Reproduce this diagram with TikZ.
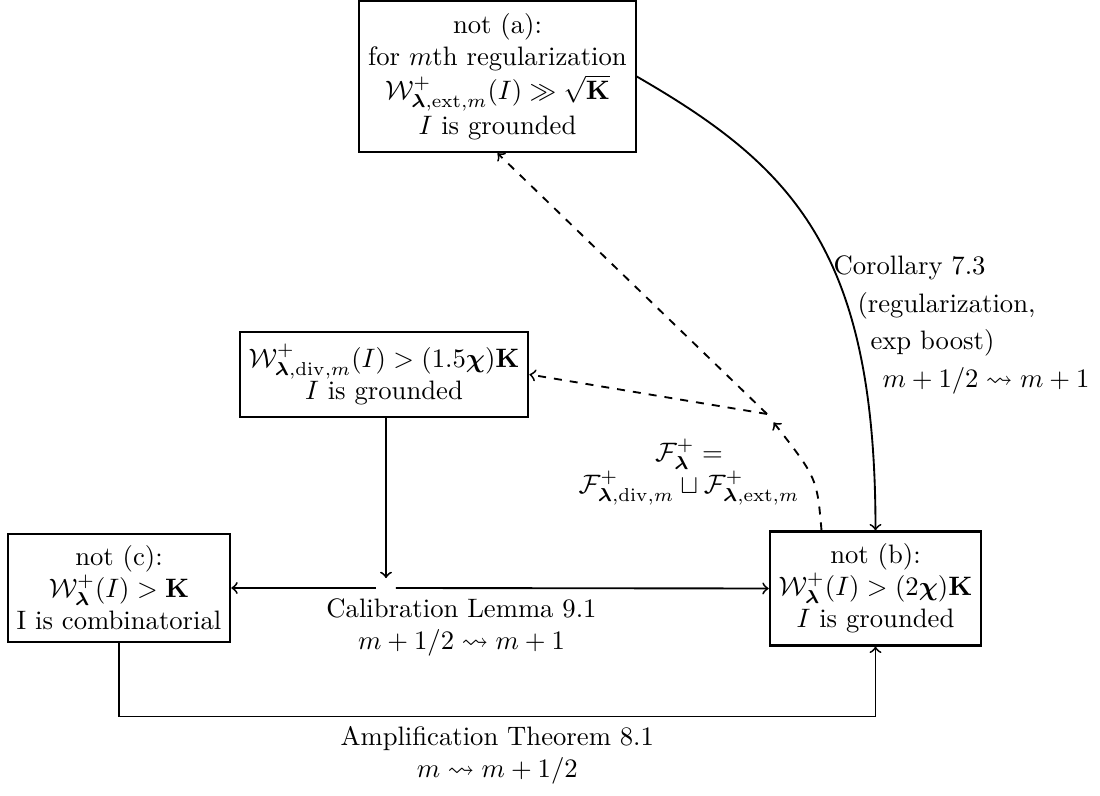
\documentclass[tikz,border=0pt]{standalone}
\usepackage{amsmath,amssymb,bm}
\usetikzlibrary{calc}
\begin{document}
\begin{tikzpicture}[x=0.375pt,y=-0.375pt,
  box/.style={draw,line width=0.8pt,align=center,inner xsep=3.33pt,inner ysep=4.6pt},
  conn/.style={line width=0.7pt,->},
  dconn/.style={line width=0.7pt,->,dashed},
  lbl/.style={align=center},
  side/.style={anchor=base west,inner sep=0pt}]
\useasboundingbox (0,0) rectangle (1100,796);
% boxes
\node[box] (a) at (497.5,76.5) {not (a):\\ for $m$th regularization\\[1pt] $\mathcal{W}^+_{\boldsymbol{\lambda},\mathrm{ext},m}(I) \gg \sqrt{\mathbf{K}}$\\[1pt] $I$ is grounded};
\node[box] (mid) at (384,374.5) {$\mathcal{W}^+_{\boldsymbol{\lambda},\mathrm{div},m}(I) > (1.5\boldsymbol{\chi})\mathbf{K}$\\ $I$ is grounded};
\node[box] (c) at (119,588) {not (c):\\ $\mathcal{W}^+_{\boldsymbol{\lambda}}(I) > \mathbf{K}$\\ I is combinatorial};
\node[box] (b) at (875.5,588.5) {not (b):\\ $\mathcal{W}^+_{\boldsymbol{\lambda}}(I) > (2\boldsymbol{\chi})\mathbf{K}$\\ $I$ is grounded};
% calibration junction
\node[inner sep=3.5pt] (j) at (386,588) {};
\draw[conn] (j |- mid.south) -- (j);
\draw[conn] (j) -- (c.east);
\draw[conn] (j) -- (b.west);
\node[lbl,anchor=north] (cal) at (461.5,589) {Calibration Lemma 9.1\\ $m+1/2 \rightsquigarrow m+1$};
% amplification
\coordinate (cl) at ([yshift=-27.4pt]c.south);
\draw[conn] (c.south) -- (cl) -- (cl -| b.south) -- (b.south);
\path (cl) -- (cl -| b.south) node[midway,below,lbl] (amp) {Amplification Theorem 8.1\\ $m \rightsquigarrow m+1/2$};
% corollary
\draw[conn] (a.east) .. controls +(156,90) and +(0,-280) .. (b.north);
\node[side] (cor1) at (833,275) {Corollary 7.3};
\node[side] (cor2) at (857,313) {(regularization,};
\node[side] (cor3) at (870,350) {exp boost)};
\node[side] (cor4) at (882,388) {$m+1/2 \rightsquigarrow m+1$};
% dashed split
\coordinate (s) at (767,414);
\draw[dconn,shorten >=4pt] ([xshift=-20.25pt]b.north) .. controls (817,478) .. (s);
\draw[dconn] (s) -- (a.south);
\draw[dconn] (s) -- (mid.east);
\node[lbl] (F) at (689,472) {$\mathcal{F}^+_{\boldsymbol{\lambda}} =$\\ $\mathcal{F}^+_{\boldsymbol{\lambda},\mathrm{div},m} \sqcup \mathcal{F}^+_{\boldsymbol{\lambda},\mathrm{ext},m}$};
\end{tikzpicture}
\end{document}
